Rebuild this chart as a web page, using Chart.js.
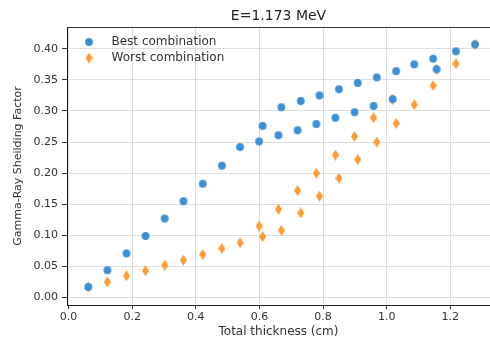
<!DOCTYPE html>
<html>
<head>
<meta charset="utf-8">
<script src="https://cdn.jsdelivr.net/npm/chart.js@4.4.1/dist/chart.umd.min.js"></script>
<style>
  html, body { margin: 0; padding: 0; background: #ffffff; }
  #wrap { width: 490px; height: 340px; }
</style>
</head>
<body>
<div id="wrap"><canvas id="c" width="490" height="340"></canvas></div>
<script>
// ---- data ----
const thickness = [0.062, 0.122, 0.182, 0.242, 0.302, 0.361, 0.422, 0.482, 0.539, 0.599,
                   0.610, 0.660, 0.669, 0.720, 0.730, 0.779, 0.789, 0.839, 0.850, 0.899,
                   0.909, 0.959, 0.969, 1.019, 1.030, 1.087, 1.146, 1.157, 1.218, 1.278];
const bestCombination = [0.017, 0.044, 0.071, 0.099, 0.127, 0.155, 0.183, 0.212, 0.242, 0.251,
                         0.276, 0.261, 0.306, 0.269, 0.316, 0.279, 0.325, 0.289, 0.335, 0.298,
                         0.345, 0.308, 0.354, 0.319, 0.364, 0.375, 0.384, 0.367, 0.396, 0.407];
const worstCombination = [0.017, 0.025, 0.035, 0.043, 0.052, 0.060, 0.069, 0.079, 0.088, 0.115,
                          0.098, 0.142, 0.108, 0.172, 0.136, 0.200, 0.163, 0.229, 0.192, 0.259,
                          0.222, 0.289, 0.250, 0.319, 0.280, 0.310, 0.341, 0.367, 0.376, 0.407];
const seriesNames = ['Best combination', 'Worst combination'];
const xTickValues = [0.0, 0.2, 0.4, 0.6, 0.8, 1.0, 1.2];
const yTickValues = [0.00, 0.05, 0.10, 0.15, 0.20, 0.25, 0.30, 0.35, 0.40];
const titleText = 'E=1.173 MeV';
const xLabel = 'Total thickness (cm)';
const yLabel = 'Gamma-Ray Sheilding Factor';

// ---- marker images ----
function makeCircle(r, color) {
  const s = Math.ceil(r * 2) + 2;
  const c = document.createElement('canvas');
  c.width = s; c.height = s;
  const g = c.getContext('2d');
  g.fillStyle = color;
  g.beginPath(); g.arc(s / 2, s / 2, r, 0, Math.PI * 2); g.fill();
  return c;
}
function makeDiamond(w, h, color) {
  const c = document.createElement('canvas');
  c.width = w; c.height = h;
  const g = c.getContext('2d');
  g.fillStyle = color;
  g.beginPath();
  g.moveTo(w / 2, 0); g.lineTo(w, h / 2); g.lineTo(w / 2, h); g.lineTo(0, h / 2);
  g.closePath(); g.fill();
  return c;
}
const blue = '#3d8fd3';
const orange = '#ff9a33';
const circleImg = makeCircle(3.9, blue);
const diamondImg = makeDiamond(7, 11, orange);

const FONT = "'DejaVu Sans', sans-serif";

const topSpine = {
  id: 'topSpine',
  afterDraw(chart) {
    const a = chart.chartArea, ctx = chart.ctx;
    ctx.save();
    ctx.strokeStyle = '#333';
    ctx.lineWidth = 1;
    ctx.beginPath();
    ctx.moveTo(a.left, Math.round(a.top) + 0.5);
    ctx.lineTo(a.right, Math.round(a.top) + 0.5);
    ctx.stroke();
    ctx.restore();
  }
};

// place the legend inside the plot area, top-left
const legendInside = {
  id: 'legendInside',
  afterLayout(chart) {
    const l = chart.legend, a = chart.chartArea;
    if (!l) return;
    const w = l.width, h = l.height;
    l.left = a.left + 1.5;
    l.top = a.top + 5;
    l.right = l.left + w;
    l.bottom = l.top + h;
  }
};

new Chart(document.getElementById('c'), {
  type: 'scatter',
  data: {
    datasets: [
      {
        label: seriesNames[0],
        data: thickness.map((x, i) => ({ x: x, y: bestCombination[i] })),
        pointStyle: circleImg,
        backgroundColor: blue,
        borderColor: blue
      },
      {
        label: seriesNames[1],
        data: thickness.map((x, i) => ({ x: x, y: worstCombination[i] })),
        pointStyle: diamondImg,
        backgroundColor: orange,
        borderColor: orange
      }
    ]
  },
  options: {
    responsive: false,
    animation: false,
    devicePixelRatio: 1,
    layout: { padding: 0, autoPadding: false },
    plugins: {
      tooltip: { enabled: false },
      title: {
        display: true,
        text: titleText,
        fullSize: false,
        color: '#222',
        font: { family: FONT, size: 14, weight: 'normal', lineHeight: 1 },
        padding: { top: 9, bottom: 4 }
      },
      legend: {
        position: 'chartArea',
        align: 'start',
        labels: {
          usePointStyle: true,
          pointStyleWidth: 33,
          boxHeight: 6,
          padding: 4,
          color: '#333',
          font: { family: FONT, size: 12 }
        }
      }
    },
    scales: {
      x: {
        type: 'linear',
        min: -0.005,
        max: 1.325,
        afterBuildTicks: s => { s.ticks = xTickValues.map(v => ({ value: v })); },
        afterFit: s => { s.height = 35; },
        ticks: {
          callback: v => Number(v).toFixed(1),
          color: '#333',
          font: { family: FONT, size: 11 },
          padding: 2,
          maxRotation: 0
        },
        grid: { color: '#dddddd', tickColor: '#333', tickLength: 4, lineWidth: 1 },
        border: { color: '#222', width: 1 },
        title: {
          display: true,
          text: xLabel,
          color: '#333',
          font: { family: FONT, size: 12 },
          padding: { top: 0, bottom: 1 }
        }
      },
      y: {
        type: 'linear',
        min: -0.012,
        max: 0.435,
        afterBuildTicks: s => { s.ticks = yTickValues.map(v => ({ value: v })); },
        afterFit: s => { s.width = 67; },
        ticks: {
          callback: v => Number(v).toFixed(2),
          color: '#333',
          font: { family: FONT, size: 11 },
          padding: 4
        },
        grid: { color: '#dddddd', tickColor: '#333', tickLength: 5, lineWidth: 1 },
        border: { color: '#111', width: 1 },
        title: {
          display: true,
          text: yLabel,
          color: '#333',
          font: { family: FONT, size: 11 },
          padding: { top: 12, bottom: 0 }
        }
      }
    }
  },
  plugins: [topSpine, legendInside]
});
</script>
</body>
</html>
